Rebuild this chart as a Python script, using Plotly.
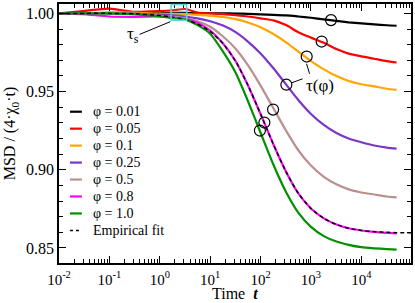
import plotly.graph_objects as go

# ---- data ----
t = [0.01, 0.03, 0.1, 0.3, 1, 1.8, 3.2, 5.6, 10, 18, 32, 56, 100, 180, 320, 560,
     1000, 1800, 3200, 5600, 10000, 18000, 32000, 50000]

msd_001 = [1.000, 1.000, 1.0003, 1.0002, 1.0002, 1.0003, 1.0003, 1.0002, 1.0001, 1.0000, 0.9999, 0.9997,
           0.9994, 0.9991, 0.9987, 0.9980, 0.9972, 0.9962, 0.9952, 0.9943, 0.9936, 0.9930, 0.9924, 0.9921]
msd_005 = [1.000, 1.0015, 1.003, 1.001, 1.0015, 1.002, 1.0028, 1.0005, 1.0000, 0.9995, 0.9988, 0.9980,
           0.9968, 0.9955, 0.9925, 0.9880, 0.9845, 0.9812, 0.9772, 0.9743, 0.9725, 0.9710, 0.9695, 0.9686]
msd_01 = [1.000, 1.000, 1.0005, 1.0005, 0.9998, 0.9997, 0.9995, 0.9991, 0.9986, 0.9977, 0.9963, 0.9942,
          0.9911, 0.9868, 0.9815, 0.9755, 0.9695, 0.9642, 0.9599, 0.9568, 0.9547, 0.9533, 0.9518, 0.9511]
msd_025 = [1.000, 1.000, 1.000, 0.9998, 0.9992, 0.9988, 0.9980, 0.9968, 0.9950, 0.9922, 0.9880, 0.9820,
           0.9744, 0.9649, 0.9546, 0.9446, 0.9357, 0.9287, 0.9235, 0.9200, 0.9176, 0.9155, 0.9142, 0.9135]
msd_05 = [1.000, 1.000, 1.000, 0.9997, 0.9986, 0.9977, 0.9968, 0.9950, 0.9915, 0.9852, 0.9774, 0.9669,
          0.9538, 0.9393, 0.9250, 0.9125, 0.9027, 0.8955, 0.8907, 0.8875, 0.8855, 0.8842, 0.8829, 0.8823]
msd_08 = [1.000, 0.9995, 0.9980, 0.9978, 0.9980, 0.9975, 0.9965, 0.9940, 0.9890, 0.9807, 0.9694, 0.9541,
          0.9357, 0.9162, 0.8988, 0.8850, 0.8752, 0.8689, 0.8650, 0.8626, 0.8612, 0.8603, 0.8597, 0.8593]
msd_10 = [1.000, 1.000, 1.000, 0.9995, 0.9980, 0.9970, 0.9960, 0.9925, 0.9870, 0.9755, 0.9620, 0.9440,
          0.9237, 0.9032, 0.8858, 0.8726, 0.8635, 0.8576, 0.8541, 0.8520, 0.8505, 0.8498, 0.8493, 0.8490]

t_fit = t + [100000]
msd_fit = [1.000, 1.000, 1.000, 0.9998, 0.9986, 0.9976, 0.9960, 0.9932, 0.9885, 0.9807, 0.9694, 0.9541,
           0.9357, 0.9162, 0.8988, 0.8850, 0.8752, 0.8689, 0.8650, 0.8626, 0.8612, 0.8604, 0.8600, 0.8598,
           0.8598]

tau_t = [2500, 1630, 822, 325, 177, 119, 97]
tau_y = [0.9957, 0.9820, 0.9724, 0.9544, 0.9385, 0.9302, 0.9251]

series_names = ["φ = 0.01", "φ = 0.05", "φ = 0.1", "φ = 0.25", "φ = 0.5", "φ = 0.8", "φ = 1.0"]
series_values = [msd_001, msd_005, msd_01, msd_025, msd_05, msd_08, msd_10]
colors = ["#000000", "#ff0000", "#ffa500", "#7b35c9", "#bc8f8f", "#ff00ff", "#009000"]

x_tickvals = [0.01, 0.1, 1, 10, 100, 1000, 10000]
x_ticktext = ["10<sup>-2</sup>", "10<sup>-1</sup>", "10<sup>0</sup>", "10<sup>1</sup>",
              "10<sup>2</sup>", "10<sup>3</sup>", "10<sup>4</sup>"]

FONT = "Liberation Serif, Times New Roman, serif"

fig = go.Figure()
for name, vals, col in zip(series_names, series_values, colors):
    fig.add_trace(go.Scatter(x=t, y=vals, mode="lines", name=name, showlegend=False,
                             line=dict(color=col, width=2.2, shape="spline", smoothing=0.6)))

fig.add_trace(go.Scatter(x=t_fit, y=msd_fit, mode="lines", name="Empirical fit", showlegend=False,
                         line=dict(color="black", width=1.5, dash="4px,3px", shape="spline", smoothing=0.6)))

fig.add_trace(go.Scatter(x=tau_t, y=tau_y, mode="markers", showlegend=False,
                         marker=dict(symbol="circle-open", size=11, color="black", line=dict(width=1.2))))

# plot area in pixels: x 59..413, y 3..262.7
def px(xp):
    return (xp - 59) / 354.0

def py(yp):
    return (262.7 - yp) / 259.7

shapes = [
    dict(type="rect", xref="paper", yref="paper", x0=px(171.7), x1=px(187.5), y0=py(19.3), y1=py(3.5),
         line=dict(color="#5cd6d6", width=1.5), fillcolor="rgba(92,214,214,0.18)"),
    dict(type="line", xref="paper", yref="paper", x0=px(140), y0=py(33.5), x1=px(171), y1=py(20.7),
         line=dict(color="black", width=1)),
    dict(type="line", xref="paper", yref="paper", x0=px(308), y0=py(63), x1=px(311), y1=py(73),
         line=dict(color="black", width=1)),
    dict(type="line", xref="paper", yref="paper", x0=px(293), y0=py(82), x1=px(304), y1=py(78),
         line=dict(color="black", width=1)),
]

annotations = [
    dict(xref="paper", yref="paper", x=px(141), y=py(34), xanchor="right", yanchor="middle",
         text="τ<sub>s</sub>", showarrow=False, font=dict(family=FONT, size=17, color="black")),
    dict(xref="paper", yref="paper", x=px(321), y=py(84.5), xanchor="center", yanchor="middle",
         text="τ(φ)", showarrow=False, font=dict(family=FONT, size=17, color="black")),
    dict(xref="paper", yref="paper", x=px(236), y=py(304), xanchor="center", yanchor="bottom",
         text="Time  <b><i>t</i></b>", showarrow=False, font=dict(family=FONT, size=16, color="black")),
]

# manual legend (short line samples as in the reference)
legend_labels = series_names + ["Empirical fit"]
legend_colors = colors + ["black"]
row0, drow = 111, 17
for i, (lab, col) in enumerate(zip(legend_labels, legend_colors)):
    yy = row0 + i * drow
    shapes.append(dict(type="line", xref="paper", yref="paper", x0=px(70), x1=px(82), y0=py(yy), y1=py(yy),
                       line=dict(color=col, width=2.2 if i < 7 else 1.5, dash="solid" if i < 7 else "3px,3px")))
    annotations.append(dict(xref="paper", yref="paper", x=px(91), y=py(yy), xanchor="left", yanchor="middle",
                            text=lab, showarrow=False, font=dict(family=FONT, size=14, color="black")))

axis_common = dict(showline=True, linecolor="black", linewidth=1.5, mirror="allticks",
                   ticks="inside", ticklen=7, tickwidth=1.2, tickcolor="black",
                   showgrid=False, zeroline=False)

fig.update_layout(
    width=415, height=303,
    margin=dict(l=59, r=2, t=3, b=40),
    paper_bgcolor="white", plot_bgcolor="white",
    font=dict(family=FONT, color="black"),
    shapes=shapes, annotations=annotations,
    showlegend=False,
    xaxis=dict(type="log", range=[-2, 4.985], tickmode="array", tickvals=x_tickvals, ticktext=x_ticktext,
               ticklabelstandoff=2, tickfont=dict(family=FONT, size=15, color="black"),
               minor=dict(ticks="inside", ticklen=4, tickwidth=1, tickcolor="black", dtick="D1", showgrid=False),
               **axis_common),
    yaxis=dict(range=[0.8404, 1.006], tickmode="linear", tick0=0.85, dtick=0.05, tickformat=".2f",
               tickfont=dict(family=FONT, size=16, color="black"),
               title=dict(text="MSD / (4·χ<sub>0</sub>·t)", font=dict(family=FONT, size=16), standoff=6),
               minor=dict(ticks="inside", ticklen=4, tickwidth=1, tickcolor="black", dtick=0.01, showgrid=False),
               **axis_common),
)

fig.write_html("out.html", config={"displayModeBar": False},
               post_script="document.body.style.margin='0px';")
